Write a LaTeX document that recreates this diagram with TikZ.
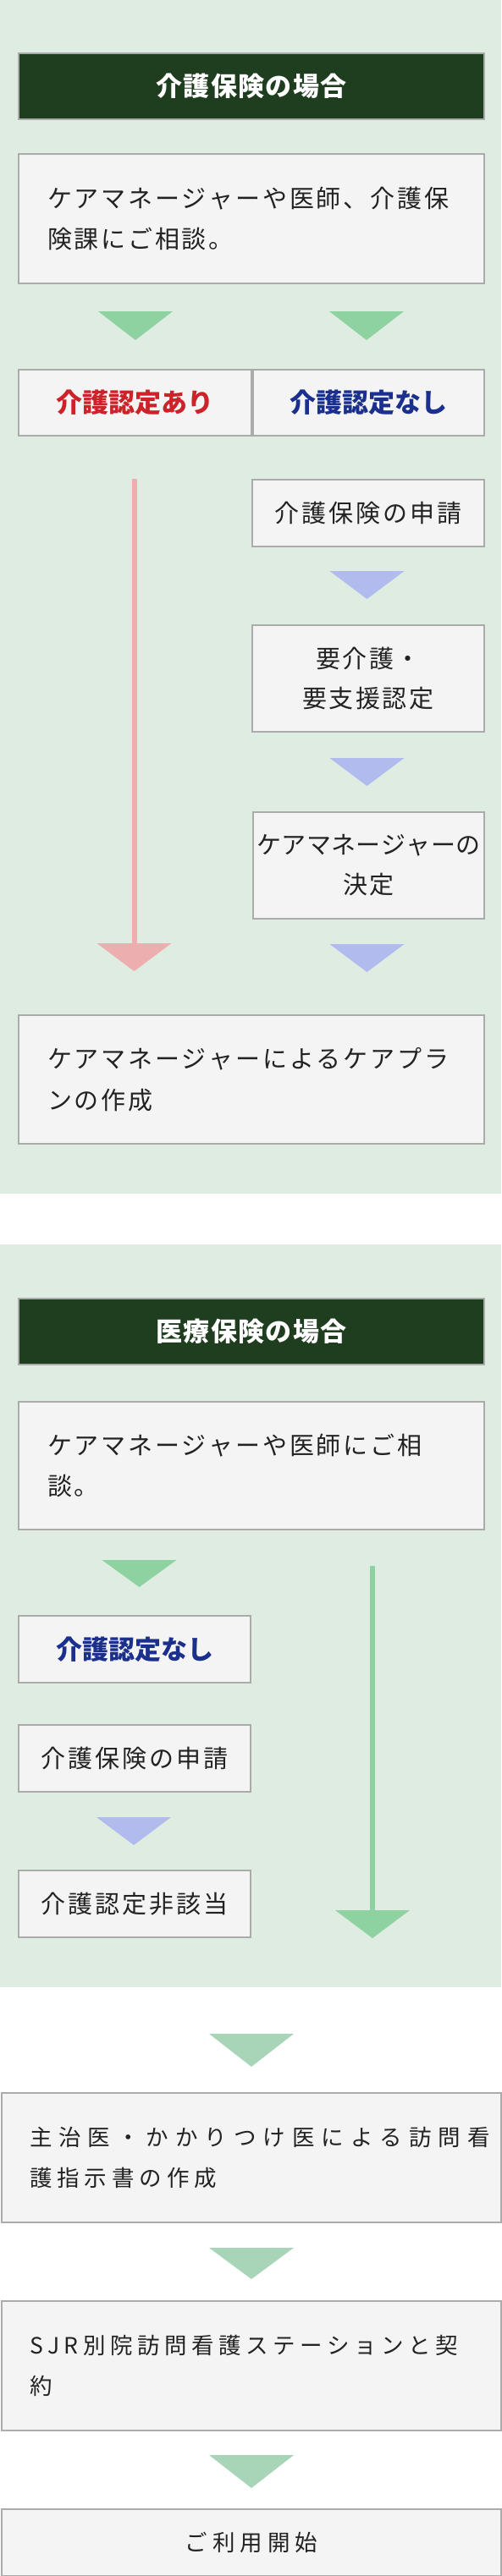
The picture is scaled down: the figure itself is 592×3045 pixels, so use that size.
\documentclass[tikz,border=0pt]{standalone}
\usepackage{fontspec}
\newfontfamily\jp{Noto Sans CJK JP}
\definecolor{bgc}{HTML}{DFECE2}
\definecolor{hdrc}{HTML}{1F3D1F}
\definecolor{boxf}{HTML}{F4F4F4}
\definecolor{boxl}{HTML}{ABABAB}
\definecolor{txt}{HTML}{222222}
\definecolor{redt}{HTML}{CC2229}
\definecolor{navyt}{HTML}{1B2F8C}
\definecolor{gtri}{HTML}{8DD2A0}
\definecolor{btri}{HTML}{B2BBEE}
\definecolor{ptri}{HTML}{ECAEAF}
\definecolor{ltri}{HTML}{A8D5B8}
\makeatletter
\newcommand\trk[2]{\@tfor\jc:=#2\do{\jc\kern#1}\unkern}
\makeatother
\newcommand\dtri[5]{\fill[#1] ({#2-#4},#3) -- ({#2+#4},#3) -- (#2,#5) -- cycle;}
\tikzset{
  boxbase/.style={draw=boxl, line width=2pt, fill=boxf, inner ysep=0pt, anchor=north west, text=txt},
  hdrbox/.style={draw=boxl, line width=2pt, fill=hdrc, inner sep=0pt, anchor=north west,
     minimum width=550pt, minimum height=78pt, text=white, font=\jp\bfseries\fontsize{31}{36}\selectfont},
  widebox/.style={boxbase, minimum width=550pt, text width=482pt, inner xsep=34pt, align=left,
     font=\jp\fontsize{29}{48.5}\selectfont},
  colbox/.style={boxbase, inner xsep=0pt, align=center, font=\jp\fontsize{29}{47}\selectfont},
  boldbox/.style={colbox, font=\jp\bfseries\fontsize{31}{36}\selectfont},
  fullbox/.style={boxbase, minimum width=590pt, text width=524pt, inner xsep=33pt, align=left,
     font=\jp\fontsize{26.5}{48}\selectfont},
  gline/.style={line width=6pt}
}
\begin{document}
\begin{tikzpicture}[x=1pt,y=-1pt]
\useasboundingbox (0,0) rectangle (592,3045);
\fill[white] (0,0) rectangle (592,3045);
% section backgrounds
\fill[bgc] (0,0) rectangle (592,1411);
\fill[bgc] (0,1471) rectangle (592,2349);

% ---------- section 1 ----------
\node[hdrbox] (h1) at (21,62) {\trk{1.3pt}{介護保険の場合}};
\node[widebox, minimum height=153pt] (b1) at (21,181)
  {\trk{2.8pt}{ケアマネージャーや医師、介護保}\\\trk{2.8pt}{険課にご相談。}};
\dtri{gtri}{160}{368}{44}{402}
\dtri{gtri}{433}{368}{44}{402}
\node[boldbox, minimum width=275pt, minimum height=78pt, text=redt] (ari) at (21,436) {\trk{0pt}{介護認定あり}};
\node[boldbox, minimum width=273pt, minimum height=78pt, text=navyt] (nashi) at (298,436) {\trk{0pt}{介護認定なし}};

\coordinate (pS) at (159,566);
\coordinate (pE) at (159,1116);
\draw[gline, ptri] (pS) -- (pE);
\dtri{ptri}{158.5}{1115}{44}{1148}

\node[colbox, minimum width=274pt, minimum height=79pt] (shinsei) at (297,566) {\trk{3pt}{介護保険の申請}};
\dtri{btri}{433.5}{675}{44}{708}
\node[colbox, minimum width=274pt, minimum height=126pt] (youkaigo) at (297,738)
  {\trk{2.5pt}{要介護・}\\\trk{2.5pt}{要支援認定}};
\dtri{btri}{433.5}{896}{44}{929}
\node[colbox, minimum width=273pt, minimum height=126pt] (cm) at (298,959)
  {\trk{0.4pt}{ケアマネージャーの}\\\trk{2.5pt}{決定}};
\dtri{btri}{433.5}{1116}{44}{1149}
\node[widebox, minimum height=152pt] (plan) at (21,1199)
  {\trk{2.8pt}{ケアマネージャーによるケアプラ}\\\trk{2.8pt}{ンの作成}};

% ---------- section 2 ----------
\node[hdrbox] (h2) at (21,1534) {\trk{1.3pt}{医療保険の場合}};
\node[widebox, minimum height=151pt] (b2) at (21,1656)
  {\trk{2.8pt}{ケアマネージャーや医師にご相}\\\trk{2.8pt}{談。}};
\dtri{gtri}{164.5}{1844}{44}{1876}
\coordinate (gS) at (440,1851);
\coordinate (gE) at (440,2259);
\draw[gline, gtri] (gS) -- (gE);
\dtri{gtri}{440}{2258}{44}{2291}
\node[boldbox, minimum width=274pt, minimum height=79pt, text=navyt] (nashi2) at (21,1909) {\trk{0pt}{介護認定なし}};
\node[colbox, minimum width=274pt, minimum height=79pt] (shinsei2) at (21,2038) {\trk{3pt}{介護保険の申請}};
\dtri{btri}{158}{2148}{44}{2181}
\node[colbox, minimum width=274pt, minimum height=79pt] (higaitou) at (21,2210) {\trk{3pt}{介護認定非該当}};

% ---------- common ----------
\dtri{ltri}{297}{2404}{50}{2443}
\node[fullbox, minimum height=153pt] (shiji) at (1,2473)
  {\trk{8pt}{主治医・かかりつけ医による訪問看}\\\trk{6pt}{護指示書の作成}};
\dtri{ltri}{297}{2657}{50}{2694}
\node[fullbox, minimum height=153pt] (keiyaku) at (1,2719)
  {\trk{5.5pt}{SJR別院訪問看護ステーションと契}\\\trk{6pt}{約}};
\dtri{ltri}{297}{2902}{50}{2941}
\node[boxbase, minimum width=590pt, minimum height=79pt, inner xsep=0pt, font=\jp\fontsize{26.5}{32}\selectfont] (start) at (1,2965)
  {\trk{6pt}{ご利用開始}};
\end{tikzpicture}
\end{document}
